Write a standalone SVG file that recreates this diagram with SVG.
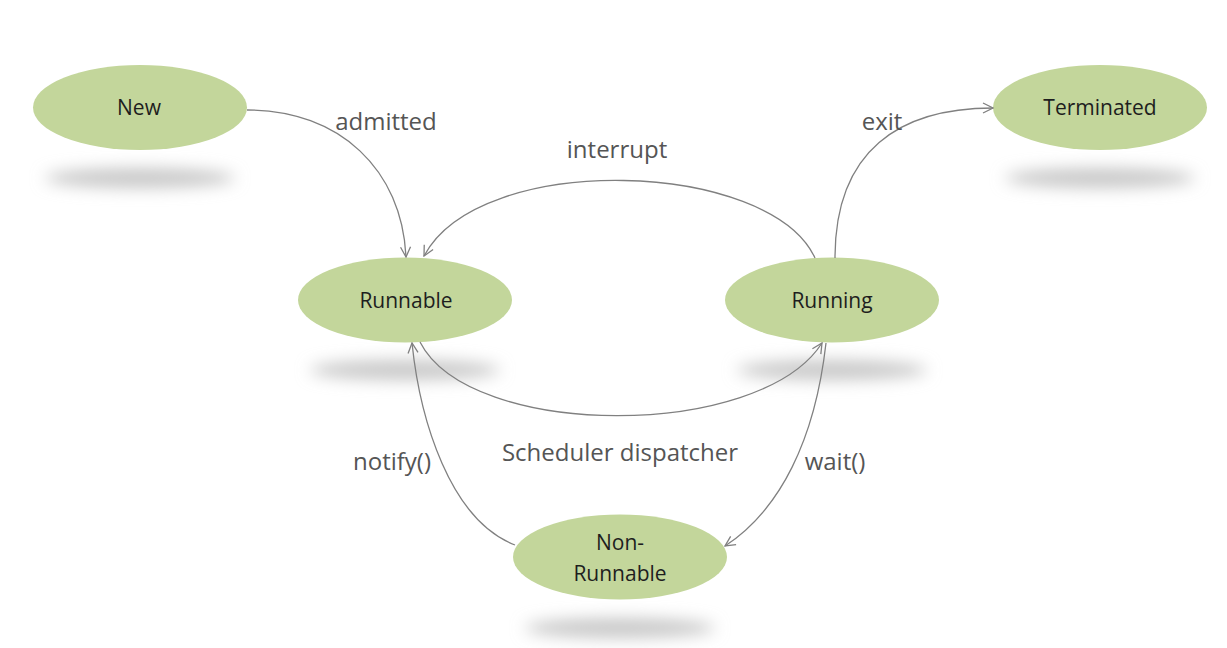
<svg xmlns="http://www.w3.org/2000/svg" width="1227" height="648" viewBox="0 0 1227 648">
<defs>
<filter id="blur" x="-50%" y="-300%" width="200%" height="700%"><feGaussianBlur stdDeviation="8"/></filter>
<marker id="arr" viewBox="0 0 12 12" refX="11" refY="6" markerWidth="12" markerHeight="12" markerUnits="userSpaceOnUse" orient="auto"><path d="M1,1 L11,6 L1,11" fill="none" stroke="#808080" stroke-width="1.3"/></marker>
</defs>
<style>
.node{fill:#c3d69b;}
.shadow{fill:#c8c8c8;filter:url(#blur);}
.nt{font-family:"Open Sans","Liberation Sans",sans-serif;font-size:21px;fill:#1e1e1e;text-anchor:middle;}
.lbl{font-family:"Open Sans","Liberation Sans",sans-serif;font-size:24px;fill:#555555;text-anchor:middle;}
.conn{fill:none;stroke:#808080;stroke-width:1.3;marker-end:url(#arr);}
</style>
<rect width="1227" height="648" fill="#ffffff"/>
<g id="node-new">
<ellipse class="shadow" cx="140" cy="178" rx="95" ry="10"/>
<ellipse class="node" cx="140" cy="107.5" rx="107" ry="42.5"/>
<text class="nt" x="139" y="115">New</text>
</g>
<g id="node-terminated">
<ellipse class="shadow" cx="1100" cy="178" rx="95" ry="10"/>
<ellipse class="node" cx="1100" cy="107.5" rx="107" ry="42.5"/>
<text class="nt" x="1100" y="115">Terminated</text>
</g>
<g id="node-runnable">
<ellipse class="shadow" cx="405" cy="370" rx="95" ry="10"/>
<ellipse class="node" cx="405" cy="300" rx="107" ry="42.5"/>
<text class="nt" x="406" y="308">Runnable</text>
</g>
<g id="node-running">
<ellipse class="shadow" cx="832" cy="370" rx="95" ry="10"/>
<ellipse class="node" cx="832" cy="300" rx="107" ry="42.5"/>
<text class="nt" x="832" y="308">Running</text>
</g>
<g id="node-nonrunnable">
<ellipse class="shadow" cx="620" cy="628" rx="95" ry="10"/>
<ellipse class="node" cx="620" cy="557" rx="107" ry="42.5"/>
<text class="nt" x="620" y="550">Non-</text>
<text class="nt" x="620" y="581">Runnable</text>
</g>
<g id="connectors">
<path class="conn" d="M247,110 C340,110 402,170 406,257"/>
<path class="conn" d="M815,258 C770,160 480,150 424,256"/>
<path class="conn" d="M835,258 C835,150 900,108 993,108"/>
<path class="conn" d="M420,342 C470,440 760,440 822,343"/>
<path class="conn" d="M826,343 C815,440 780,510 725,546"/>
<path class="conn" d="M515,545 C450,520 420,420 412,343"/>
<text class="lbl" x="386" y="130">admitted</text>
<text class="lbl" x="617" y="158">interrupt</text>
<text class="lbl" x="882" y="130">exit</text>
<text class="lbl" x="620" y="461">Scheduler dispatcher</text>
<text class="lbl" x="835" y="470">wait()</text>
<text class="lbl" x="392" y="470">notify()</text>
</g>
</svg>
